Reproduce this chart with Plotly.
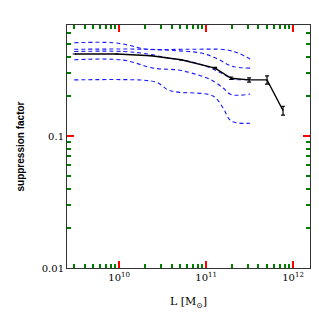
import plotly.graph_objects as go

# black curve (with error bars)
main_L = [3.08e9, 9.4e9, 2.33e10, 5.16e10, 1.27e11, 1.94e11, 3.12e11, 5.02e11, 7.67e11]
main_s = [0.418, 0.418, 0.406, 0.378, 0.327, 0.274, 0.266, 0.266, 0.156]
main_err = [0, 0, 0, 0, 0.004, 0.006, 0.010, 0.019, 0.012]

# blue dashed curves
b1_L = [3.04e9, 8.5e9, 1.34e10, 1.99e10, 6.21e10, 1.70e11, 2.33e11, 3.21e11]
b1_s = [0.509, 0.509, 0.485, 0.456, 0.454, 0.450, 0.425, 0.383]
b2_L = [3.04e9, 2.15e10, 4.18e10, 8.76e10, 1.37e11, 1.94e11, 3.21e11]
b2_s = [0.454, 0.454, 0.444, 0.425, 0.383, 0.339, 0.327]
b3_L = [3.04e9, 1.11e10, 2.15e10, 3.66e10, 6.21e10, 1.055e11, 1.57e11, 2.04e11, 3.21e11]
b3_s = [0.437, 0.437, 0.418, 0.390, 0.370, 0.333, 0.295, 0.270, 0.268]
b4_L = [3.04e9, 1.11e10, 2.46e10, 4.77e10, 8.09e10, 1.14e11, 1.57e11, 1.94e11, 3.21e11]
b4_s = [0.378, 0.376, 0.327, 0.316, 0.290, 0.266, 0.231, 0.206, 0.208]
b5_L = [3.04e9, 2.15e10, 2.81e10, 3.66e10, 4.77e10, 1.20e11, 1.57e11, 1.94e11, 3.21e11]
b5_s = [0.266, 0.263, 0.252, 0.223, 0.215, 0.201, 0.163, 0.130, 0.125]

x_tickvals = [1e10, 1e11, 1e12]
x_ticktext = ["10<sup>10</sup>", "10<sup>11</sup>", "10<sup>12</sup>"]
y_tickvals = [0.01, 0.1]
y_ticktext = ["0.01", "0.1"]

minor_x = [k * 10 ** e for e in (9, 10, 11, 12) for k in range(2, 10)]
minor_y = [k * 10 ** e for e in (-2, -1) for k in range(2, 10)]

fig = go.Figure()
for Ls, ss in [(b1_L, b1_s), (b2_L, b2_s), (b3_L, b3_s), (b4_L, b4_s), (b5_L, b5_s)]:
    fig.add_trace(go.Scatter(x=Ls, y=ss, mode="lines",
                             line=dict(color="#1a1aff", width=1.1, dash="4px,3px"),
                             line_shape="spline", showlegend=False))
fig.add_trace(go.Scatter(x=main_L, y=main_s, mode="lines",
                         line=dict(color="black", width=1.4),
                         error_y=dict(type="data", array=main_err, visible=True,
                                      color="black", thickness=1.2, width=2),
                         showlegend=False))

fig.update_layout(
    width=319, height=319, margin=dict(l=59, r=17, t=17, b=59),
    paper_bgcolor="white", plot_bgcolor="white",
    xaxis=dict(type="log", range=[9.40, 12.195], tickvals=x_tickvals, ticktext=x_ticktext,
               ticks="inside", ticklen=7, tickwidth=2, tickcolor="red",
               showline=True, linecolor="#333", mirror="allticks", showgrid=False,
               tickfont=dict(family="DejaVu Serif", size=10, color="black"),
               minor=dict(tickvals=minor_x, ticks="inside", ticklen=4, tickwidth=2,
                          tickcolor="green", showgrid=False),
               title=dict(text="L [M<sub>⊙</sub>]", font=dict(family="DejaVu Serif", size=11, color="black"))),
    yaxis=dict(type="log", range=[-2, -0.159], tickvals=y_tickvals, ticktext=y_ticktext,
               ticks="inside", ticklen=7, tickwidth=2, tickcolor="red",
               showline=True, linecolor="#333", mirror="allticks", showgrid=False,
               tickfont=dict(family="DejaVu Serif", size=10, color="black"),
               minor=dict(tickvals=minor_y, ticks="inside", ticklen=4, tickwidth=2,
                          tickcolor="green", showgrid=False),
               title=dict(text="<b>suppression factor</b>", font=dict(family="Liberation Sans", size=10, color="black"))),
)
fig.write_html("out.html")
